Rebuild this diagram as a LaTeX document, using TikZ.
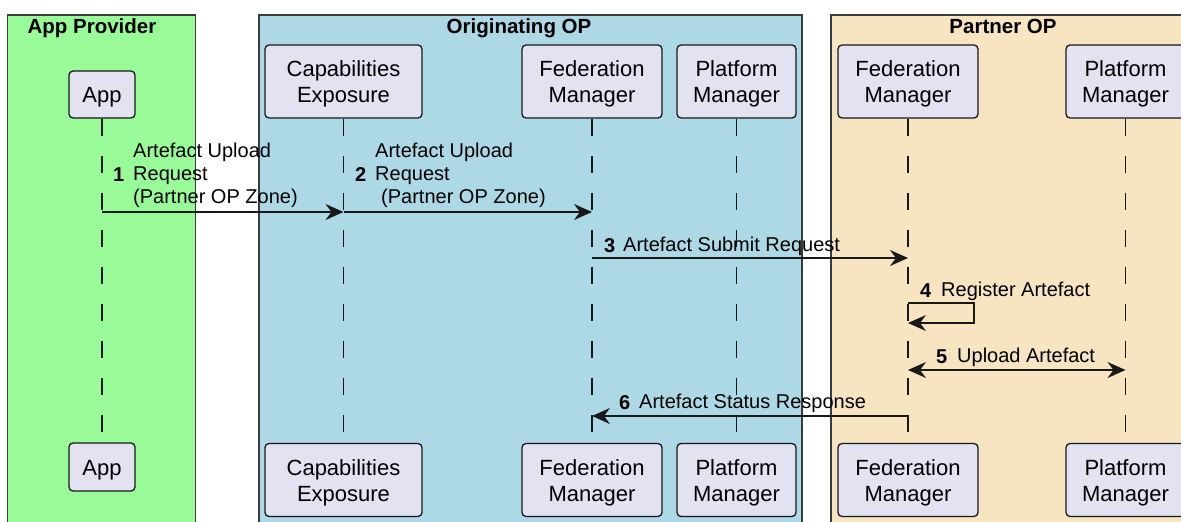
\documentclass[tikz,border=0pt]{standalone}
\usepackage{fontspec}
\setmainfont{Liberation Sans}
\usetikzlibrary{arrows.meta}
\definecolor{appgreen}{HTML}{98FB98}
\definecolor{origblue}{HTML}{ADD8E6}
\definecolor{partnerwheat}{HTML}{F7E4C0}
\definecolor{actorfill}{HTML}{E2E2F0}
\definecolor{linecol}{HTML}{181818}
\newcommand{\hd}{\rule{0pt}{21pt}}
\begin{document}
\begin{tikzpicture}[x=1pt, y=-1pt,
  group/.style = {draw=linecol!85, line width=1.3pt},
  grouptitle/.style = {font=\fontsize{20.5}{24}\selectfont\bfseries, inner sep=0pt, anchor=base},
  actor/.style = {shape=rectangle, rounded corners=4pt,
    draw=linecol, line width=1.3pt, fill=actorfill, align=center,
    font=\fontsize{22}{26}\selectfont, inner sep=0pt, minimum height=73pt},
  lifeline/.style = {draw=linecol, line width=1.5pt, dash pattern=on 17pt off 20pt},
  msg/.style = {draw=linecol, line width=1.5pt, -{Stealth[length=18pt, width=16pt, inset=6pt]}},
  msgboth/.style = {draw=linecol, line width=1.5pt,
    {Stealth[length=18pt, width=16pt, inset=6pt]}-{Stealth[length=18pt, width=16pt, inset=6pt]}},
  msgtext/.style = {font=\fontsize{20}{23}\selectfont, align=left, inner sep=0pt, anchor=west},
  num/.style = {font=\fontsize{20}{23}\selectfont\bfseries, inner sep=0pt, anchor=west}]
  \useasboundingbox (0,0) rectangle (1181,522);
  \clip (0,0) rectangle (1181,522);

  % groups
  \draw[group, fill=appgreen] (7.5,15) rectangle (195.5,540);
  \draw[group, fill=origblue] (259,15) rectangle (802,540);
  \draw[group, fill=partnerwheat] (831,15) rectangle (1200,540);
  \node[grouptitle] (gApp) at (92,34) {App Provider};
  \node[grouptitle] (gOrig) at (519,34) {Originating OP};
  \node[grouptitle] (gPart) at (1003,34) {Partner OP};

  % participants, top
  \node[actor, minimum width=66pt, minimum height=47pt] (app) at (102,94.5) {\hd App};
  \node[actor, minimum width=157pt] (capex) at (343.5,81.5) {\hd Capabilities\\Exposure};
  \node[actor, minimum width=140pt] (fedO) at (592,81.5) {\hd Federation\\Manager};
  \node[actor, minimum width=119pt] (platO) at (736.5,81.5) {\hd Platform\\Manager};
  \node[actor, minimum width=140pt] (fedP) at (908,81.5) {\hd Federation\\Manager};
  \node[actor, minimum width=119pt] (platP) at (1125.5,81.5) {\hd Platform\\Manager};

  % participants, bottom
  \node[actor, minimum width=66pt, minimum height=48pt] (appB) at (102,467) {\hd App};
  \node[actor, minimum width=157pt] (capexB) at (343.5,480) {\hd Capabilities\\Exposure};
  \node[actor, minimum width=140pt] (fedOB) at (592,480) {\hd Federation\\Manager};
  \node[actor, minimum width=119pt] (platOB) at (736.5,480) {\hd Platform\\Manager};
  \node[actor, minimum width=140pt] (fedPB) at (908,480) {\hd Federation\\Manager};
  \node[actor, minimum width=119pt] (platPB) at (1125.5,480) {\hd Platform\\Manager};

  % lifelines
  \draw[lifeline] (app.south) -- (appB.north);
  \draw[lifeline] (capex.south) -- (capexB.north);
  \draw[lifeline] (fedO.south) -- (fedOB.north);
  \draw[lifeline] (platO.south) -- (platOB.north);
  \draw[lifeline] (fedP.south) -- (fedPB.north);
  \draw[lifeline] (platP.south) -- (platPB.north);

  % 1
  \draw[msg] (app |- 0,212) -- (capex |- 0,212);
  \node[num] (n1) at (113,175) {1};
  \node[msgtext] (t1) at (133,175) {Artefact Upload\\Request\\(Partner OP Zone)};
  % 2
  \draw[msg] (capex |- 0,212) -- (fedO |- 0,212);
  \node[num] (n2) at (355,175) {2};
  \node[msgtext] (t2) at (375,175) {Artefact Upload\\Request\\\hspace*{6pt}(Partner OP Zone)};
  % 3
  \draw[msg] (fedO |- 0,258) -- (fedP |- 0,258);
  \node[num] (n3) at (604,246) {3};
  \node[msgtext] (t3) at (623,246) {Artefact Submit Request};
  % 4
  \draw[msg] (fedP |- 0,303) -- ++(66,0) -- ++(0,20) -- (fedP |- 0,323);
  \node[num] (n4) at (920,291) {4};
  \node[msgtext] (t4) at (941,291) {Register Artefact};
  % 5
  \draw[msgboth] (fedP |- 0,370) -- (platP |- 0,370);
  \node[num] (n5) at (936,357) {5};
  \node[msgtext] (t5) at (957,357) {Upload Artefact};
  % 6
  \draw[msg] (fedP |- 0,416) -- (fedO |- 0,416);
  \node[num] (n6) at (619,403) {6};
  \node[msgtext] (t6) at (639,403) {Artefact Status Response};
\end{tikzpicture}
\end{document}
